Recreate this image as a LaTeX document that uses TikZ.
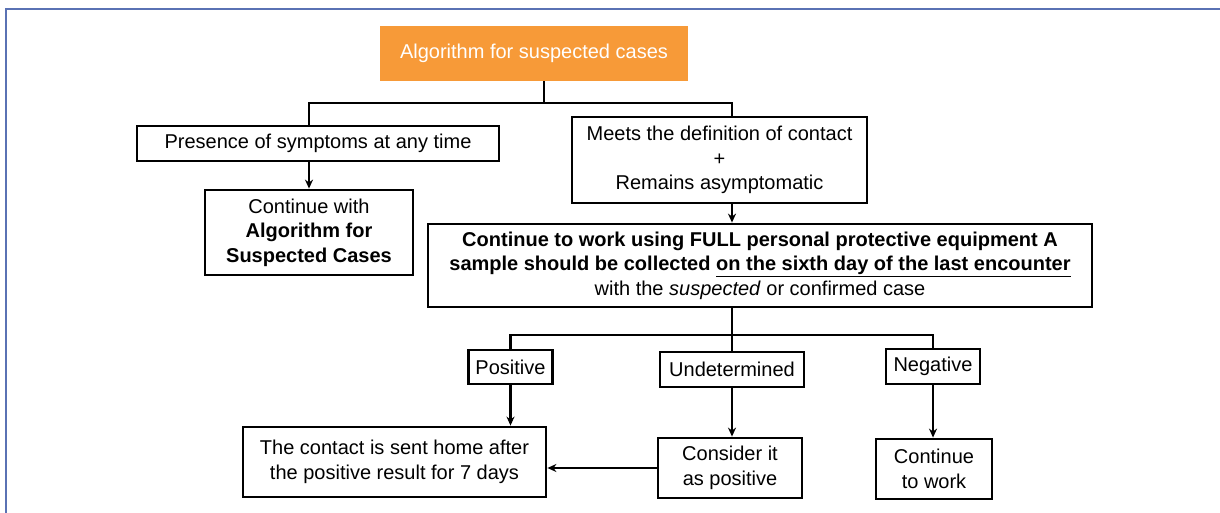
\documentclass[tikz,border=0pt]{standalone}
\usepackage{fontspec}
\setmainfont{Liberation Sans}
\usetikzlibrary{calc,arrows.meta}
\definecolor{sorange}{HTML}{F79A38}
\definecolor{sframe}{HTML}{5A72B4}

\begin{document}
\begin{tikzpicture}[x=1pt, y=-1pt,
    BOX/.style={draw=black, line width=2.8pt, rectangle, inner sep=0pt, align=center, font=\fontsize{20}{24.5}\selectfont},
    HEAD/.style={rectangle, fill=sorange, text=white, inner sep=0pt, minimum width=308, minimum height=55, font=\fontsize{20}{24}\selectfont},
    LN/.style={line width=2.8pt},
    AR/.style={line width=2.8pt, ->, >={Stealth[length=9pt,width=8pt]}}
    ]
        \useasboundingbox (0,0) rectangle (1220,513);
        \draw[sframe, line width=2pt] (6,513) -- (6,9) -- (1220,9);

        \node[HEAD] (T) at (534,53.5) {Algorithm for suspected cases};
        \node[BOX, minimum width=362, minimum height=35] (P1) at (318,143.5) {Presence of symptoms at any time};
        \node[BOX, minimum width=208, minimum height=85] (P2) at (309,232.5) {Continue with\\\textbf{Algorithm for}\\\textbf{Suspected Cases}};
        \node[BOX, minimum width=295, minimum height=86] (M1) at (719.5,160) {Meets the definition of contact\\+\\Remains asymptomatic};
        \node[BOX, minimum width=664, minimum height=83] (M2) at (760,265.5) {\textbf{Continue to work using FULL personal protective equipment A}\\\textbf{sample should be collected \underline{on the sixth day of the last encounter}}\\with the \textit{suspected} or confirmed case};

        \node[BOX, minimum width=84, minimum height=34] (R1) at (510.5,367) {Positive};
        \node[BOX, minimum width=144, minimum height=35] (R2) at (732,369.5) {Undetermined};
        \node[BOX, minimum width=94, minimum height=35] (R3) at (933,366.5) {Negative};

        \node[BOX, minimum width=303, minimum height=70] (E1) at (394.5,462) {The contact is sent home after\\the positive result for 7 days};
        \node[BOX, minimum width=144, minimum height=60] (E2) at (730,468) {Consider it\\as positive};
        \node[BOX, minimum width=116, minimum height=60] (E3) at (934,469) {Continue\\to work};

        % top fork
        \coordinate (F1) at (544,103);
        \coordinate (S) at (732,103);
        \draw[LN] ($(T.south)+(10,0)$) -- (F1);
        \draw[LN] (P2.north |- P1.north) |- (F1) -| (S |- M1.north);
        \draw[AR] (P2.north |- P1.south) -- (P2.north);
        \draw[AR] (S |- M1.south) -- (S |- M2.north);

        % results fork
        \coordinate (F2) at (732,335);
        \draw[LN] (S |- M2.south) -- (F2) -- (R2.north);
        \draw[LN] (R1.north) |- (F2) -| (R3.north);
        \draw[AR] (R1.south) -- (R1.south |- E1.north);
        \draw[AR] (R2.south) -- (R2.south |- E2.north);
        \draw[AR] (R3.south) -- (R3.south |- E3.north);
        \draw[AR] (E2.west) -- (E2.west -| E1.east);
\end{tikzpicture}
\end{document}
